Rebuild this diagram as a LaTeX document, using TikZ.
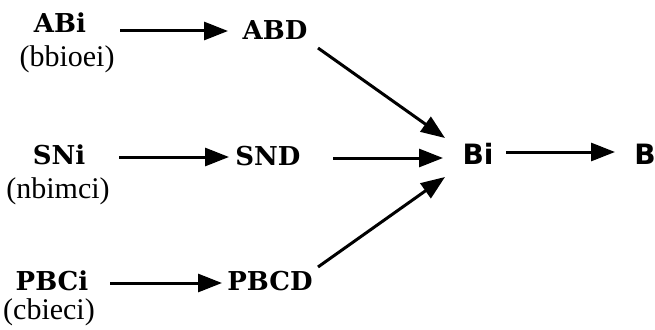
\documentclass[tikz,border=0pt]{standalone}
\usepackage{fontspec}
\usetikzlibrary{arrows.meta,calc}
\newfontfamily\lblfont{DejaVu Serif}
\newfontfamily\subfont{Liberation Serif}
\newfontfamily\sansfnt{DejaVu Sans}
\tikzset{
  lbl/.style={inner sep=0pt,font=\lblfont\bfseries\fontsize{26}{28}\selectfont},
  sub/.style={inner sep=0pt,font=\subfont\fontsize{30}{32}\selectfont},
  sbl/.style={inner sep=0pt,font=\sansfnt\bfseries\fontsize{28}{30}\selectfont},
  arr/.style={line width=3pt,-{Triangle[length=24pt,width=18pt]}}
}
\begin{document}
\begin{tikzpicture}[x=1pt,y=-1pt]
\useasboundingbox[fill=white] (0,0) rectangle (655,329);
\node[lbl] (ABi) at (60,23) {ABi};
\node[sub] (s1) at (67,59) {(bbioei)};
\node[lbl] (ABD) at (275,30) {ABD};
\node[lbl] (SNi) at (59,155) {SNi};
\node[sub] (s2) at (58,191) {(nbimci)};
\node[lbl] (SND) at (268,156) {SND};
\node[lbl] (PBCi) at (52,281) {PBCi};
\node[sub] (s3) at (49,312) {(cbieci)};
\node[lbl] (PBCD) at (270,281) {PBCD};
\node[sbl] (Bi) at (478,154) {Bi};
\node[sbl] (B) at (645,154) {B};
\draw[arr] ($(ABi)+(60,8)$) -- ($(ABD)+(-47,1)$);
\draw[arr] ($(SNi)+(60,2)$) -- ($(SND)+(-39,1)$);
\draw[arr] ($(PBCi)+(58,2)$) -- ($(PBCD)+(-48,2)$);
\draw[arr] ($(ABD)+(43,18)$) -- ($(Bi)+(-33,-16)$);
\draw[arr] ($(SND)+(65,2)$) -- ($(Bi)+(-35,4)$);
\draw[arr] ($(PBCD)+(48,-14)$) -- ($(Bi)+(-33,23)$);
\draw[arr] ($(Bi)+(28,-2)$) -- ($(B)+(-30,-2)$);
\end{tikzpicture}
\end{document}
